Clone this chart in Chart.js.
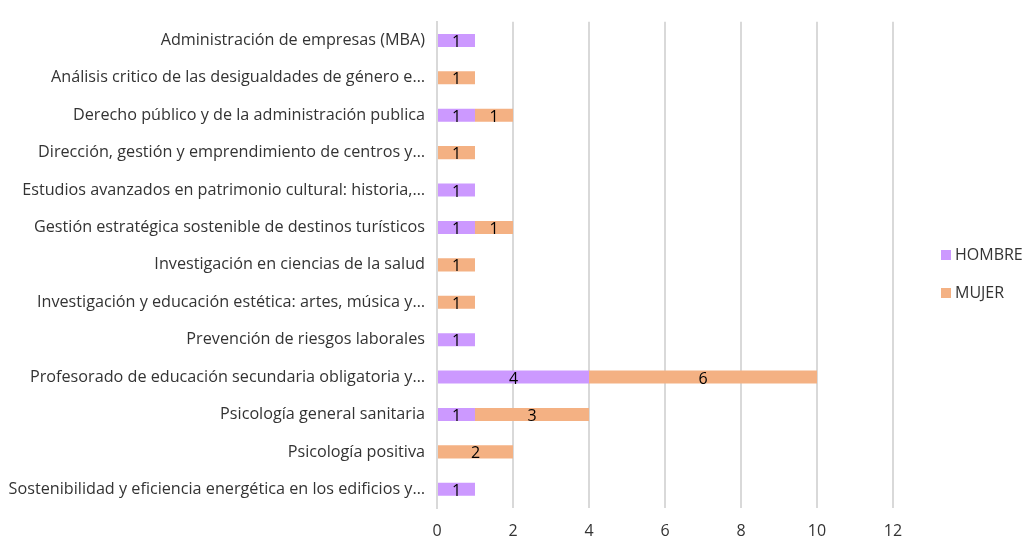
<!DOCTYPE html>
<html>
<head>
<meta charset="utf-8">
<script src="https://cdn.jsdelivr.net/npm/chart.js@4.4.1/dist/chart.umd.min.js"></script>
<style>
  html, body { margin: 0; padding: 0; background: #fff; }
  #wrap { width: 1026px; height: 539px; position: relative; }
</style>
</head>
<body>
<div id="wrap"><canvas id="myChart"></canvas></div>
<script>
const masters = [
  'Administración de empresas (MBA)',
  'Análisis critico de las desigualdades de género e…',
  'Derecho público y de la administración publica',
  'Dirección, gestión y emprendimiento de centros y…',
  'Estudios avanzados en patrimonio cultural: historia,…',
  'Gestión estratégica sostenible de destinos turísticos',
  'Investigación en ciencias de la salud',
  'Investigación y educación estética: artes, música y…',
  'Prevención de riesgos laborales',
  'Profesorado de educación secundaria obligatoria y…',
  'Psicología general sanitaria',
  'Psicología positiva',
  'Sostenibilidad y eficiencia energética en los edificios y…'
]
const hombre = [1, null, 1, null, 1, 1, null, null, 1, 4, 1, null, 1]
const mujer = [null, 1, 1, 1, null, 1, 1, 1, null, 6, 3, 2, null]
const ejeX = [0, 2, 4, 6, 8, 10, 12]

const fuente = "'Open Sans', 'Liberation Sans', sans-serif"

// numeros dentro de cada barra
const etiquetas = {
  id: 'etiquetas',
  afterDatasetsDraw(chart) {
    const ctx = chart.ctx
    ctx.save()
    ctx.font = '16px ' + fuente
    ctx.fillStyle = '#000'
    ctx.textAlign = 'center'
    ctx.textBaseline = 'middle'
    chart.data.datasets.forEach((ds, i) => {
      chart.getDatasetMeta(i).data.forEach((bar, j) => {
        const v = ds.data[j]
        if (!v) return
        ctx.fillText(String(v), (bar.x + bar.base) / 2, bar.y + 2)
      })
    })
    ctx.restore()
  }
}

// leyenda a la derecha, una debajo de otra
const leyenda = {
  id: 'leyenda',
  afterDraw(chart) {
    const ctx = chart.ctx
    ctx.save()
    ctx.font = '16px ' + fuente
    ctx.textBaseline = 'middle'
    chart.data.datasets.forEach((ds, i) => {
      const y = 255 + i * 38
      ctx.fillStyle = ds.backgroundColor
      ctx.fillRect(941, y - 5, 10, 10)
      ctx.fillStyle = '#333'
      ctx.fillText(ds.label, 955, y)
    })
    ctx.restore()
  }
}

const ctx = document.getElementById('myChart').getContext('2d')
const myChart = new Chart(ctx, {
  type: 'bar',
  data: {
    labels: masters,
    datasets: [{
      label: 'HOMBRE',
      data: hombre,
      backgroundColor: '#CC99FF',
      borderWidth: 0
    }, {
      label: 'MUJER',
      data: mujer,
      backgroundColor: '#F4B183',
      borderWidth: 0
    }]
  },
  options: {
    indexAxis: 'y',
    responsive: true,
    maintainAspectRatio: false,
    animation: false,
    layout: { padding: { top: 3, right: 133, left: 0, bottom: 0 } },
    datasets: { bar: { barPercentage: 0.53, categoryPercentage: 0.66 } },
    plugins: {
      legend: { display: false },
      tooltip: { enabled: false }
    },
    scales: {
      x: {
        stacked: true,
        min: 0,
        max: 12,
        afterBuildTicks(scale) { scale.ticks = ejeX.map(v => ({ value: v })) },
        afterFit(scale) { scale.height = 31 },
        grid: { color: '#D9D9D9', lineWidth: 2, drawTicks: false },
        border: { display: false },
        ticks: { color: '#333', font: { family: fuente, size: 16 }, padding: 14 }
      },
      y: {
        stacked: true,
        afterFit(scale) { scale.width = 437 },
        grid: { display: false, drawTicks: false },
        border: { display: true, color: '#D9D9D9', width: 2 },
        ticks: { color: '#333', font: { family: fuente, size: 16.2 }, padding: 12, autoSkip: false }
      }
    }
  },
  plugins: [etiquetas, leyenda]
})
</script>
</body>
</html>
